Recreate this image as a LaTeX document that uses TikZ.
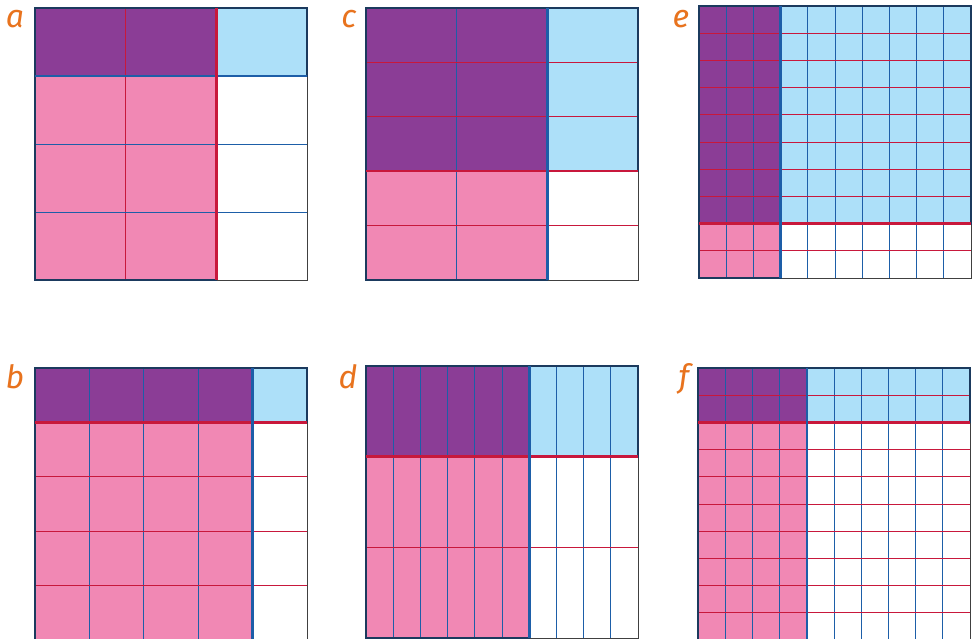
\documentclass[tikz,border=0pt]{standalone}
\usepackage{fontspec}
\newfontfamily\lblfont{Fira Sans}

\definecolor{gridpurple}{HTML}{8B3D96}
\definecolor{gridpink}{HTML}{F188B4}
\definecolor{gridsky}{HTML}{ADE0F9}
\definecolor{linered}{HTML}{C8183C}
\definecolor{lineblue}{HTML}{1D5EA8}
\definecolor{edgenavy}{HTML}{1B3A5E}
\definecolor{lblorange}{HTML}{E8731E}

\tikzset{
  thinline/.style={line width=0.9pt},
  outeredge/.style={draw=black!75, line width=1pt},
  bandedge/.style={draw=edgenavy, line width=2pt},
  splitline/.style={line width=2.6pt},
  panellabel/.style={text=lblorange, anchor=base, inner sep=0pt,
    font=\lblfont\itshape\fontsize{32}{32}\selectfont},
}

% #1,#2 top left corner, #3 columns, #4 rows,
% #5 shaded columns, #6 shaded rows, #7 column colour, #8 row colour
\newcommand{\areamodel}[8]{%
  \begin{scope}[shift={(#1,#2)}]
    \pgfmathsetmacro\cw{272/#3}
    \pgfmathsetmacro\rh{272/#4}
    \pgfmathsetmacro\px{#5*\cw}
    \pgfmathsetmacro\py{#6*\rh}
    \pgfmathtruncatemacro\lastcol{#3-1}
    \pgfmathtruncatemacro\lastrow{#4-1}
    \fill[gridpurple] (0,0) rectangle (\px,\py);
    \fill[gridsky] (\px,0) rectangle (272,\py);
    \fill[gridpink] (0,\py) rectangle (\px,272);
    \foreach \i in {1,...,\lastcol}
      \draw[thinline,#7] (\i*\cw,0) -- (\i*\cw,272);
    \foreach \j in {1,...,\lastrow}
      \draw[thinline,#8] (0,\j*\rh) -- (272,\j*\rh);
    \draw[outeredge] (0,0) rectangle (272,272);
    \draw[bandedge] (0,0) rectangle (272,\py);
    \draw[bandedge] (0,0) rectangle (\px,272);
    \draw[splitline,#8] (0,\py) -- (272,\py);
    \draw[splitline,#7] (\px,0) -- (\px,272);
  \end{scope}}

\begin{document}
\begin{tikzpicture}[x=1pt,y=-1pt]
  \useasboundingbox (0,0) rectangle (974,639);
  \fill[white] (0,0) rectangle (974,639);

  % top row
  \areamodel{35}{8}{3}{4}{2}{1}{linered}{lineblue}
  \areamodel{366}{8}{3}{5}{2}{3}{lineblue}{linered}
  \areamodel{699}{6}{10}{10}{3}{8}{lineblue}{linered}
  % bottom row
  \areamodel{35}{368}{5}{5}{4}{1}{lineblue}{linered}
  \areamodel{366}{366}{10}{3}{6}{1}{lineblue}{linered}
  \areamodel{698}{368}{10}{10}{4}{2}{lineblue}{linered}

  \node[panellabel] (la) at (15,28) {a};
  \node[panellabel] (lc) at (349,28) {c};
  \node[panellabel] (le) at (681,28) {e};
  \node[panellabel] (lb) at (15,388) {b};
  \node[panellabel] (ld) at (348,388) {d};
  \node[panellabel] (lf) at (684,387) {f};
\end{tikzpicture}
\end{document}
